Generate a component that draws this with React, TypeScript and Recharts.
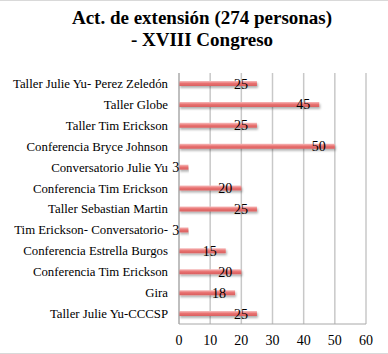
import { BarChart, Bar, XAxis, YAxis, CartesianGrid, LabelList } from "recharts";

const activities = [
  "Taller Julie Yu- Perez Zeledón",
  "Taller Globe",
  "Taller Tim Erickson",
  "Conferencia Bryce Johnson",
  "Conversatorio Julie Yu",
  "Conferencia Tim Erickson",
  "Taller Sebastian Martin",
  "Tim Erickson- Conversatorio-",
  "Conferencia Estrella Burgos",
  "Conferencia Tim Erickson ",
  "Gira",
  "Taller Julie Yu-CCCSP",
];
const attendees = [25, 45, 25, 50, 3, 20, 25, 3, 15, 20, 18, 25];
const xTicks = [0, 10, 20, 30, 40, 50, 60];

const data = activities.map((name, i) => ({ name, value: attendees[i] }));

const serif = "'Liberation Serif', 'DejaVu Serif', serif";

function ValueLabel(props: any) {
  const { x, y, width, height, value } = props;
  return (
    <text
      x={x + width - 9}
      y={y + height / 2 + 5}
      textAnchor="end"
      style={{ fontFamily: serif, fontSize: 14 }}
      fill="#000"
    >
      {value}
    </text>
  );
}

function CategoryTick(props: any) {
  const { x, y, payload } = props;
  return (
    <text
      x={x}
      y={y + 4.5}
      textAnchor="end"
      style={{ fontFamily: serif, fontSize: 12.8 }}
      fill="#000"
    >
      {payload.value.trim()}
    </text>
  );
}

function NumberTick(props: any) {
  const { x, y, payload } = props;
  return (
    <text
      x={x}
      y={y + 13}
      textAnchor="middle"
      style={{ fontFamily: serif, fontSize: 14 }}
      fill="#000"
    >
      {payload.value}
    </text>
  );
}

export default function App() {
  return (
    <div
      style={{
        position: "absolute",
        top: 0,
        left: 0,
        width: 388,
        height: 354,
        background: "#fff",
        boxSizing: "border-box",
        borderTop: "1px solid #d9d9d9",
        borderBottom: "1px solid #d9d9d9",
        fontFamily: serif,
      }}
    >
      <div
        style={{
          position: "absolute",
          top: 6,
          left: 0,
          width: 404,
          textAlign: "center",
          fontWeight: "bold",
          fontSize: 19,
          lineHeight: "22px",
        }}
      >
        Act. de extensión (274 personas)
        <br />- XVIII Congreso
      </div>
      <BarChart
        width={388}
        height={353}
        data={data}
        layout="vertical"
        margin={{ top: 72, right: 22, left: 0, bottom: 0 }}
      >
        <defs>
          <linearGradient id="barFill" x1="0" y1="0" x2="0" y2="1">
            <stop offset="0%" stopColor="#f7bcbc" />
            <stop offset="50%" stopColor="#e8706f" />
            <stop offset="100%" stopColor="#d96060" />
          </linearGradient>
          <filter id="barShadow" x="-5%" y="-50%" width="110%" height="250%">
            <feDropShadow dx="1" dy="2" stdDeviation="1" floodColor="#000" floodOpacity="0.3" />
          </filter>
        </defs>
        <CartesianGrid horizontal={false} stroke="#c8c8c8" strokeWidth={1.5} />
        <XAxis
          type="number"
          domain={[0, 60]}
          ticks={xTicks}
          height={30}
          tickLine={false}
          axisLine={{ stroke: "#a8a8a8" }}
          tick={<NumberTick />}
        />
        <YAxis
          type="category"
          dataKey="name"
          width={179}
          tickLine={false}
          axisLine={{ stroke: "#a8a8a8" }}
          tickSize={6}
          tickMargin={5}
          interval={0}
          tick={<CategoryTick />}
        />
        <Bar
          dataKey="value"
          barSize={5}
          fill="url(#barFill)"
          filter="url(#barShadow)"
          isAnimationActive={false}
        >
          <LabelList dataKey="value" content={ValueLabel} />
        </Bar>
      </BarChart>
    </div>
  );
}
